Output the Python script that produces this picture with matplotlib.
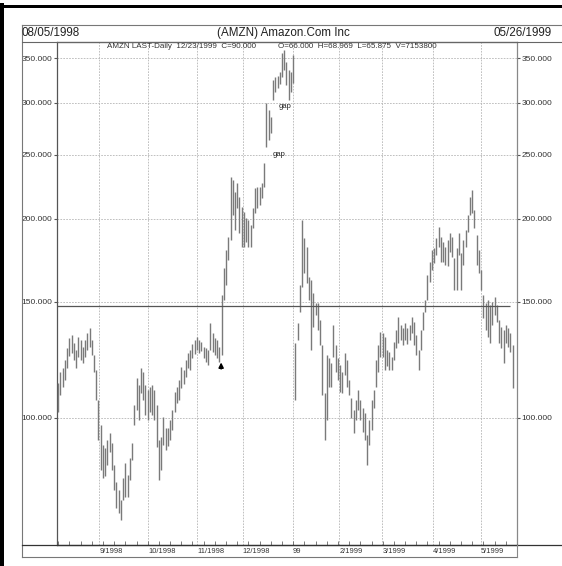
import matplotlib
matplotlib.use("Agg")
import matplotlib.pyplot as plt
from matplotlib.lines import Line2D
from matplotlib.ticker import FixedLocator, NullLocator, MultipleLocator, FuncFormatter

plt.rcParams['font.family'] = ['Liberation Sans', 'DejaVu Sans']

# daily high / low (one bar per trading day, 08/05/1998 .. 05/26/1999)
highs = [113.0, 117.4, 119.0, 122.4, 127.6, 132.1, 133.5, 129.9, 126.7, 132.6,
         131.2, 128.1, 131.2, 134.5, 136.9, 131.2, 124.5, 118.2, 106.5, 97.6,
         91.0, 90.0, 92.6, 94.9, 91.6, 84.9, 80.0, 77.8, 75.1, 81.2,
         85.5, 82.0, 87.0, 91.6, 104.6, 115.0, 112.2, 119.0, 117.4, 112.2,
         110.3, 111.4, 112.2, 110.3, 104.6, 92.6, 93.6, 100.4, 96.6, 96.6,
         99.3, 102.8, 109.5, 111.4, 114.2, 119.5, 118.2, 122.4, 125.4, 126.7,
         129.4, 131.2, 132.6, 131.2, 130.3, 128.1, 127.6, 126.7, 139.3, 134.5,
         132.1, 131.2, 128.1, 153.5, 168.6, 179.6, 187.9, 231.6, 229.2, 219.8,
         226.8, 216.0, 208.6, 205.0, 200.8, 199.4, 195.9, 207.9, 222.8, 223.6,
         223.6, 226.8, 243.2, 299.7, 292.5, 285.4, 324.7, 328.1, 329.2, 333.9,
         356.7, 360.5, 345.7, 336.2, 333.9, 354.2, 129.9, 139.3, 158.9, 199.4,
         187.2, 181.5, 163.4, 161.7, 154.6, 149.2, 149.2, 140.7, 129.0, 109.1,
         124.5, 123.2, 121.1, 138.3, 129.0, 123.2, 120.3, 117.4, 125.4, 122.4,
         114.2, 107.2, 102.8, 106.5, 110.3, 106.5, 103.5, 101.8, 94.3, 99.3,
         106.5, 110.3, 122.4, 129.0, 134.9, 134.5, 132.6, 126.7, 125.8, 123.7,
         130.3, 135.9, 142.2, 138.3, 136.9, 139.3, 136.9, 138.3, 142.2, 139.7,
         133.5, 126.7, 135.9, 144.7, 150.9, 164.6, 172.2, 179.6, 180.8, 187.2,
         194.5, 187.9, 184.6, 181.5, 185.9, 190.5, 187.9, 174.6, 180.8, 190.5,
         177.7, 185.9, 192.5, 202.9, 216.0, 221.3, 206.4, 189.2, 179.6, 167.5,
         153.5, 149.2, 150.9, 148.2, 149.8, 152.4, 148.2, 140.7, 137.3, 135.9,
         138.3, 136.9, 134.5, 129.0]
lows = [102.1, 108.3, 111.4, 114.2, 119.0, 124.1, 125.4, 122.4, 119.0, 123.7,
        122.4, 121.1, 123.7, 126.7, 128.1, 124.5, 117.4, 106.5, 92.6, 83.4,
        81.2, 81.7, 84.9, 88.8, 83.4, 77.8, 73.1, 71.8, 70.1, 75.1,
        76.0, 76.0, 80.6, 86.4, 97.6, 102.8, 99.3, 109.1, 106.5, 101.1,
        99.3, 102.1, 101.1, 99.3, 90.4, 80.6, 83.4, 91.0, 89.4, 90.7,
        92.6, 95.9, 102.1, 105.4, 106.5, 111.0, 112.6, 115.4, 119.0, 118.2,
        123.2, 124.9, 126.7, 125.4, 126.3, 123.2, 121.6, 120.3, 126.7, 125.8,
        124.5, 123.2, 121.6, 124.5, 150.9, 158.9, 173.4, 185.9, 202.9, 192.5,
        207.9, 190.5, 181.5, 181.5, 184.6, 181.5, 181.5, 193.9, 204.3, 207.9,
        210.1, 215.2, 223.6, 257.1, 263.4, 270.0, 302.8, 311.4, 315.8, 320.2,
        328.1, 336.2, 319.1, 302.8, 311.4, 321.3, 106.5, 131.2, 144.7, 157.8,
        165.7, 160.0, 150.9, 126.7, 137.3, 143.2, 135.9, 129.0, 108.3, 92.6,
        99.3, 111.4, 111.4, 123.7, 117.4, 114.2, 109.5, 109.1, 116.2, 111.4,
        108.3, 100.0, 94.9, 99.3, 102.8, 99.3, 95.2, 92.6, 84.9, 91.0,
        95.9, 103.5, 111.4, 117.4, 123.7, 123.7, 118.2, 119.9, 118.2, 118.2,
        122.4, 127.6, 129.9, 131.2, 129.0, 131.2, 129.4, 131.2, 134.5, 129.0,
        124.5, 118.2, 126.7, 135.9, 144.7, 150.9, 160.6, 167.5, 171.6, 176.5,
        181.5, 172.2, 172.2, 170.4, 169.8, 178.4, 175.3, 156.2, 156.2, 176.5,
        156.2, 170.4, 181.5, 191.2, 202.9, 204.3, 193.9, 170.4, 165.7, 156.2,
        141.7, 135.9, 132.6, 129.9, 138.3, 143.2, 139.7, 129.9, 127.6, 121.1,
        129.9, 128.1, 125.8, 111.0]

month_pos = [18.3, 40.3, 62.0, 82.4, 104.8, 125.6, 144.8, 167.6, 188.9]
month_labels = ['9/1998', '10/1998', '11/1998', '12/1998', '99',
                '2/1999', '3/1999', '4/1999', '5/1999']
price_ticks = [100, 150, 200, 250, 300, 350]
ref_level = 147.5
gap_notes = [(101.3, 296.5), (98.7, 250.1)]
arrow_day, arrow_lo, arrow_hi = 72.8, 117.5, 122.5

W, H = 562, 566
fig = plt.figure(figsize=(W / 100, H / 100), dpi=100)


def fx(px):
    return px / W


def fy(py):
    return 1 - py / H


ax = fig.add_axes([fx(57.3), fy(545), fx(517) - fx(57.3), fy(41.5) - fy(545)])
ax.set_yscale('log')
ax.set_ylim(64.2, 371.3)
ax.set_xlim(-0.4, 205)

days = list(range(len(highs)))
ax.vlines(days, lows, highs, color='#7a7a7a', lw=1.0, zorder=3)
ax.hlines(ref_level, -0.4, 202, color='#555555', lw=0.9, zorder=4)

for x, y in gap_notes:
    ax.text(x, y, 'gap', fontsize=5.5, ha='center', va='center', color='#222222', zorder=5)
ax.annotate('', xy=(arrow_day, arrow_hi), xytext=(arrow_day, arrow_lo),
            arrowprops=dict(arrowstyle='-|>', color='black', lw=1.2, mutation_scale=7))

# y axis, both sides
ax.yaxis.set_major_locator(FixedLocator(price_ticks))
ax.yaxis.set_minor_locator(NullLocator())
ax.yaxis.set_major_formatter(FuncFormatter(lambda v, p: f"{v:.3f}"))
ax.tick_params(axis='y', which='major', left=True, right=True, labelleft=True,
               labelright=True, labelsize=6, length=2.5, pad=0.8, color='#555555',
               labelcolor='#333333')

# x axis: month labels to the right of month lines, weekly ticks
ax.xaxis.set_major_locator(FixedLocator(month_pos))
ax.set_xticklabels(month_labels)
for lab in ax.get_xticklabels():
    lab.set_ha('left')
ax.xaxis.set_minor_locator(MultipleLocator(5))
ax.tick_params(axis='x', which='major', length=0, labelsize=5.4, pad=2, labelcolor='#333333')
ax.tick_params(axis='x', which='minor', direction='in', length=3, color='#666666')

ax.grid(True, which='major', color='#b5b5b5', lw=0.6, linestyle=(0, (2, 1.5)))
ax.set_axisbelow(True)

for side, c in [('top', '#555555'), ('bottom', '#333333'), ('left', '#555555'), ('right', '#888888')]:
    ax.spines[side].set_color(c)
    ax.spines[side].set_linewidth(0.9)


def fline(x0, y0, x1, y1, lw=0.8, color='#777777'):
    fig.add_artist(Line2D([fx(x0), fx(x1)], [fy(y0), fy(y1)], lw=lw, color=color))


# scanned page frame and header box
fline(2, 5, 2, 566, lw=4 * 0.72, color='black')
fline(0, 6, 562, 6, lw=3 * 0.72, color='black')
fline(22, 25, 562, 25)
fline(22, 25, 22, 557)
fline(22, 41.5, 562, 41.5, color='#666666')
fline(22, 545, 562, 545, lw=0.9, color='#333333')
fline(22, 557, 517, 557)
fline(517, 545, 517, 557, color='#888888')

fig.text(fx(22), fy(33), '08/05/1998', fontsize=8.4, ha='left', va='center', color='#222222')
fig.text(fx(283), fy(33), '(AMZN) Amazon.Com Inc', fontsize=8.4, ha='center', va='center',
         color='#222222')
fig.text(fx(552), fy(33), '05/26/1999', fontsize=8.4, ha='right', va='center', color='#222222')
fig.text(fx(107), fy(46), 'AMZN LAST-Daily  12/23/1999  C=90.000', fontsize=5.8,
         ha='left', va='center', color='#333333')
fig.text(fx(278), fy(46), 'O=66.000  H=68.969  L=65.875  V=7153800', fontsize=5.8,
         ha='left', va='center', color='#333333')

fig.savefig('out.png', dpi=100, facecolor='white')
